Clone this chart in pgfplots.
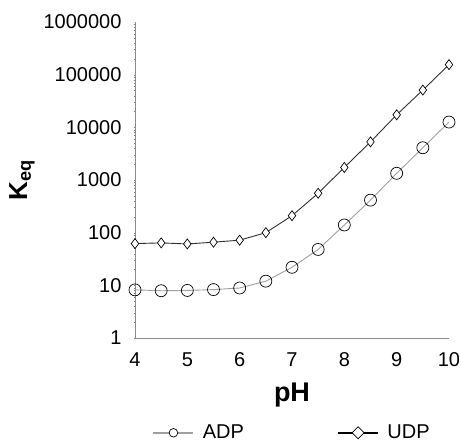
\documentclass[border=0pt]{standalone}
\usepackage{fontspec}
\setmainfont{Liberation Sans}
\usepackage{pgfplots}
\pgfplotsset{compat=1.18}

\definecolor{adpline}{HTML}{A0A0A0}
\definecolor{udpline}{HTML}{303030}
\definecolor{axgray}{HTML}{8C8C8C}

\begin{document}
\begin{tikzpicture}
\begin{axis}[
  name=ax,
  scale only axis,
  width=314pt, height=316pt,
  ymode=log,
  xmin=4, xmax=10,
  ymin=1, ymax=1000000,
  xtick={4,5,6,7,8,9,10},
  xticklabels={4,5,6,7,8,9,10},
  ytick={1,10,100,1000,10000,100000,1000000},
  yticklabels={1,10,100,1000,10000,100000,1000000},
  minor ytick={},
  axis x line=bottom, axis y line=left,
  axis line style={-, draw=axgray, line width=0.9pt},
  major tick length=0pt,
  tick label style={font=\fontsize{20}{24}\selectfont},
  yticklabel style={xshift=-10pt},
  xticklabel style={yshift=-11pt},
  xlabel={pH},
  ylabel={K\textsubscript{eq}},
  xlabel style={font=\bfseries\fontsize{27}{30}\selectfont, at={(axis description cs:0.5,-0.18)}, anchor=center},
  ylabel style={font=\bfseries\fontsize{26}{30}\selectfont, at={(axis description cs:-0.36,0.5)}, anchor=center},
  clip=false,
  legend columns=2,
  legend style={draw=none, fill=none, inner sep=0pt, at={(0.054,-0.30)}, anchor=west,
    font=\fontsize{20}{24}\selectfont,
    /tikz/every odd column/.append style={column sep=6pt},
    /tikz/every even column/.append style={column sep=91pt}},
  legend cell align=left,
]
\addplot[adpline, line width=0.9pt, mark=o, mark size=6pt,
  mark options={draw=black, fill=white, line width=0.7pt},
  legend image code/.code={
    \draw[adpline, line width=2.6pt] (0pt,0pt) -- (40pt,0pt);
    \draw[black, fill=white, line width=0.7pt] (20pt,0pt) circle (4.3pt);
  }] coordinates {
  (4,8.2) (4.5,7.9) (5,8.0) (5.5,8.3) (6,8.9) (6.5,12) (7,22)
  (7.5,48) (8,140) (8.5,415) (9,1340) (9.5,4100) (10,12600)
};
\addlegendentry{ADP}
\addplot[udpline, line width=0.9pt, mark=diamond*, mark size=5pt,
  mark options={draw=black, fill=white, line width=0.7pt},
  legend image code/.code={
    \draw[black, line width=2.6pt] (0pt,0pt) -- (40pt,0pt);
    \draw[black, fill=white, line width=0.7pt] (20pt,6pt) -- (26pt,0pt) -- (20pt,-6pt) -- (14pt,0pt) -- cycle;
  }] coordinates {
  (4,62) (4.5,64) (5,61) (5.5,66) (6,72) (6.5,100) (7,210)
  (7.5,560) (8,1730) (8.5,5300) (9,17300) (9.5,51000) (10,155000)
};
\addlegendentry{UDP}
\end{axis}
\pgfresetboundingbox
\path (ax.south west) ++(-135pt,-106pt) rectangle ++(461pt,444pt);
\end{tikzpicture}
\end{document}
